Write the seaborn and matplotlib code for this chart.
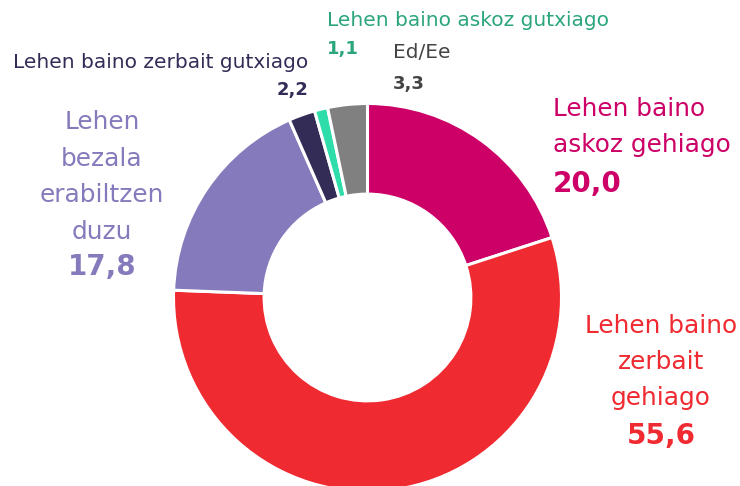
import matplotlib
matplotlib.use("Agg")
import matplotlib.pyplot as plt
import seaborn as sns

# Data (clockwise from the top)
categories = ["Lehen baino askoz gehiago", "Lehen baino zerbait gehiago", "Lehen bezala erabiltzen duzu",
              "Lehen baino zerbait gutxiago", "Lehen baino askoz gutxiago", "Ed/Ee"]
values = [20.0, 55.6, 17.8, 2.2, 1.1, 3.3]
value_labels = ["20,0", "55,6", "17,8", "2,2", "1,1", "3,3"]
wedge_colors = ["#CC0066", "#EF2A31", "#857ABB", "#332C57", "#2EDDAA", "#808080"]
text_colors = ["#CC0066", "#EF2A31", "#857ABB", "#332C57", "#2BA57E", "#444444"]

sns.set_theme(style="white")
plt.rcParams["font.family"] = ["DejaVu Sans"]

W, H = 740, 486
cx, cy, R = 367.5, 297.5, 194.0

fig = plt.figure(figsize=(W / 100, H / 100), dpi=100)
ax = fig.add_axes([0, 0, 1, 1])

ax.pie(values, colors=wedge_colors, startangle=90, counterclock=False, radius=1,
       wedgeprops=dict(width=0.467, edgecolor="white", linewidth=2.2))

ax.set_xlim(-cx / R, (W - cx) / R)
ax.set_ylim(-(H - cy) / R, cy / R)
ax.set_aspect("equal")
ax.axis("off")


def px(x, y):
    return (x - cx) / R, (cy - y) / R


def put(x, y, s, color, size, weight="normal", ha="left"):
    ax.text(*px(x, y), s, color=color, fontsize=size, fontweight=weight, ha=ha, va="center")


big, num, small, small_num = 17.8, 20, 14.5, 13

# big labels
for i, line in enumerate(["Lehen baino", "askoz gehiago"]):
    put(553, 109 + 36 * i, line, text_colors[0], big)
put(553, 184, value_labels[0], text_colors[0], num, "bold")

for i, line in enumerate(["Lehen baino", "zerbait", "gehiago"]):
    put(661, 326 + 36 * i, line, text_colors[1], big, ha="center")
put(661, 436, value_labels[1], text_colors[1], num, "bold", ha="center")

for i, line in enumerate(["Lehen", "bezala", "erabiltzen", "duzu"]):
    put(102, 122 + 36.5 * i, line, text_colors[2], big, ha="center")
put(102, 267, value_labels[2], text_colors[2], num, "bold", ha="center")

# small labels
put(308, 62, categories[3], text_colors[3], small, ha="right")
put(308, 90, value_labels[3], text_colors[3], small_num, "bold", ha="right")

put(327, 20, categories[4], text_colors[4], small)
put(327, 49, value_labels[4], text_colors[4], small_num, "bold")

put(393, 52, categories[5], text_colors[5], small)
put(393, 84, value_labels[5], text_colors[5], small_num, "bold")

fig.savefig("out.png", dpi=100, facecolor="white")
